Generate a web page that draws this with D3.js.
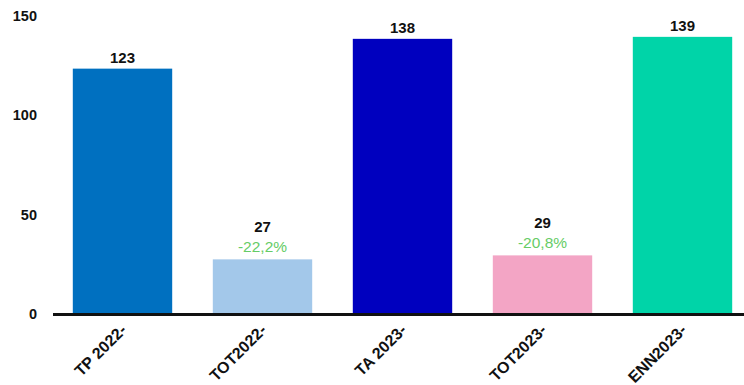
<!DOCTYPE html>
<html><head><meta charset="utf-8">
<script src="https://cdn.jsdelivr.net/npm/d3@7"></script>
<style>body{margin:0;background:#fff}svg{display:block}text{font-family:"Liberation Sans",Arial,sans-serif}</style>
</head><body><svg id="c" width="744" height="385"></svg>
<script>
const categories = ["TP 2022-", "TOT2022-", "TA 2023-", "TOT2023-", "ENN2023-"];
const values = [123, 27, 138, 29, 139];
const changes = [null, "-22,2%", null, "-20,8%", null];
const colors = ["#0070C0", "#A3C8EA", "#0000BF", "#F3A5C5", "#00D4A8"];
const yTicks = [0, 50, 100, 150];

const svg = d3.select("#c");
const x = d3.scaleBand().domain(categories).range([52.5, 752.5]).paddingInner(0.29).paddingOuter(0.145);
const y = d3.scaleLinear().domain([0, 150]).range([313, 15]);

svg.selectAll("rect.bar").data(values).join("rect").attr("class","bar")
  .attr("x",(d,i)=>x(categories[i])).attr("width",x.bandwidth())
  .attr("y",d=>y(d)).attr("height",d=>y(0)-y(d)).attr("fill",(d,i)=>colors[i]);

// y labels
svg.selectAll("text.yl").data(yTicks).join("text").attr("class","yl")
  .attr("x",37).attr("y",d=>y(d)+1).attr("dy","0.35em").attr("text-anchor","end")
  .attr("font-size",14.5).attr("font-weight","bold").attr("fill","#111").text(d=>d);

// axis line
svg.append("line").attr("x1",53).attr("x2",744).attr("y1",y(0)+1.5).attr("y2",y(0)+1.5)
  .attr("stroke","#111").attr("stroke-width",3);

// value labels
svg.selectAll("text.vl").data(values).join("text").attr("class","vl")
  .attr("x",(d,i)=>x(categories[i])+x.bandwidth()/2)
  .attr("y",(d,i)=>y(d)-(changes[i]?27:6))
  .attr("text-anchor","middle").attr("font-size",15).attr("font-weight","bold").attr("fill","#111")
  .text(d=>d);

svg.selectAll("text.cl").data(changes.map((c,i)=>({c,i})).filter(d=>d.c)).join("text").attr("class","cl")
  .attr("x",d=>x(categories[d.i])+x.bandwidth()/2)
  .attr("y",d=>y(values[d.i])-7)
  .attr("text-anchor","middle").attr("font-size",15.5).attr("fill","#66CC66")
  .text(d=>d.c);

// x labels
svg.selectAll("text.xl").data(categories).join("text").attr("class","xl")
  .attr("transform",d=>`translate(${x(d)+x.bandwidth()/2+5},${331}) rotate(-45)`)
  .attr("text-anchor","end").attr("font-size",16).attr("font-weight","bold").attr("fill","#111")
  .text(d=>d);
</script></body></html>
